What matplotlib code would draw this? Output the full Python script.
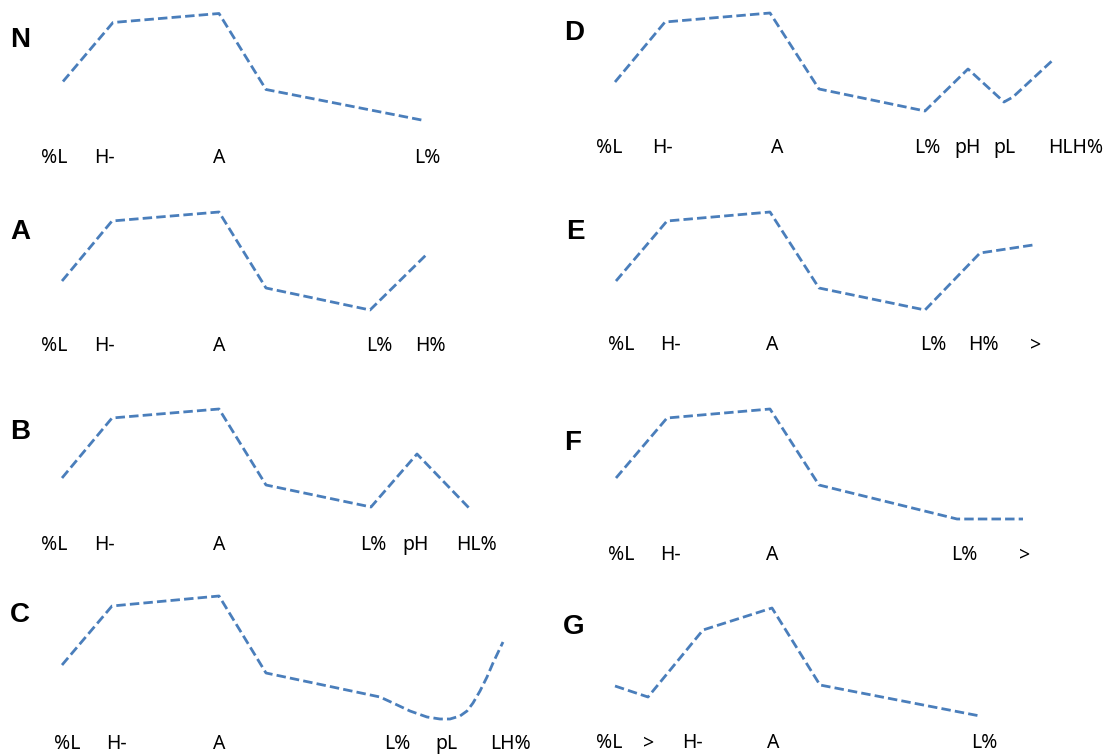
import matplotlib
matplotlib.use("Agg")
from matplotlib import pyplot as plt

# each panel: x = position along the utterance, y = pitch height (panel units)
N_x = [63, 113, 219, 266, 424]
N_y = [107, 166, 175, 99, 68]
A_x = [62, 112, 219, 266, 370, 426]
A_y = [96, 156, 165, 89, 67, 122]
B_x = [62, 112, 219, 266, 371, 417, 470]
B_y = [87.5, 147.5, 156.5, 80.5, 58.5, 111.5, 56.5]
C_x = [62, 112, 219, 266, 380, 393, 410, 427, 440, 450, 460, 467, 473, 480, 487, 493, 503]
C_y = [89, 148, 158, 81, 57, 51, 43, 37, 35, 35, 38, 43, 51, 63, 77, 91, 112]
D_x = [59, 109, 214, 263, 369, 412, 448, 457, 498]
D_y = [106.5, 166.5, 175.5, 99.5, 77.5, 119.5, 86.5, 91.5, 129.5]
E_x = [60, 111, 214, 263, 369, 424, 477]
E_y = [96, 156, 165, 89, 67, 124, 132]
F_x = [60, 111, 214, 263, 401, 467]
F_y = [87.5, 147.5, 156.5, 80.5, 46.5, 46.5]
G_x = [59, 92, 147, 216, 264, 424]
G_y = [68, 57, 124, 146, 69, 38]

# tone labels under each contour
N_lab = ["%L", "H-", "A", "L%"]
N_lab_x = [54, 104, 219, 427]
A_lab = ["%L", "H-", "A", "L%", "H%"]
A_lab_x = [54, 104, 219, 379, 430]
B_lab = ["%L", "H-", "A", "L%", "pH", "HL%"]
B_lab_x = [54, 104, 219, 373, 416, 477]
C_lab = ["%L", "H-", "A", "L%", "pL", "LH%"]
C_lab_x = [67, 116, 219, 397, 446, 510]
D_lab = ["%L", "H-", "A", "L%", "pH", "pL", "HLH%"]
D_lab_x = [53, 106, 221, 371, 412, 448, 520]
E_lab = ["%L", "H-", "A", "L%", "H%", ">"]
E_lab_x = [65, 114, 216, 377, 427, 480]
F_lab = ["%L", "H-", "A", "L%", ">"]
F_lab_x = [65, 114, 216, 408, 469]
G_lab = ["%L", ">", "H-", "A", "L%"]
G_lab_x = [53, 93, 136, 217, 428]

panels = [
    # name, col, row, x, y, labels, label x, label y, letter pos
    ("N", 0, 0, N_x, N_y, N_lab, N_lab_x, 30.5, (20, 148.5)),
    ("A", 0, 1, A_x, A_y, A_lab, A_lab_x, 31, (20, 145)),
    ("B", 0, 2, B_x, B_y, B_lab, B_lab_x, 20.5, (20, 133.5)),
    ("C", 0, 3, C_x, C_y, C_lab, C_lab_x, 10, (20, 139)),
    ("D", 1, 0, D_x, D_y, D_lab, D_lab_x, 40.5, (18, 155.5)),
    ("E", 1, 1, E_x, E_y, E_lab, E_lab_x, 32, (19, 145)),
    ("F", 1, 2, F_x, F_y, F_lab, F_lab_x, 10.5, (17, 122.5)),
    ("G", 1, 3, G_x, G_y, G_lab, G_lab_x, 11, (18, 127)),
]

fig = plt.figure(figsize=(11.12, 7.54), dpi=100)
for name, col, row, xs, ys, labs, lab_x, lab_y, letter in panels:
    ax = fig.add_axes([col * 0.5, 1 - (row + 1) * 0.25, 0.5, 0.25])
    ax.set_xlim(0, 556)
    ax.set_ylim(0, 188.5)
    ax.axis("off")
    ax.plot(xs, ys, color="#4a7ebb", lw=2.0, dashes=(3.4, 1.5),
            solid_joinstyle="miter", dash_capstyle="butt")
    for t, x in zip(labs, lab_x):
        ax.text(x, lab_y, t, ha="center", va="center", fontsize=14,
                family="Noto Sans", color="black")
    ax.text(letter[0], letter[1], name, ha="center", va="center",
            fontsize=20, fontweight="bold", family="Liberation Sans")

fig.savefig("out.png", dpi=100)
